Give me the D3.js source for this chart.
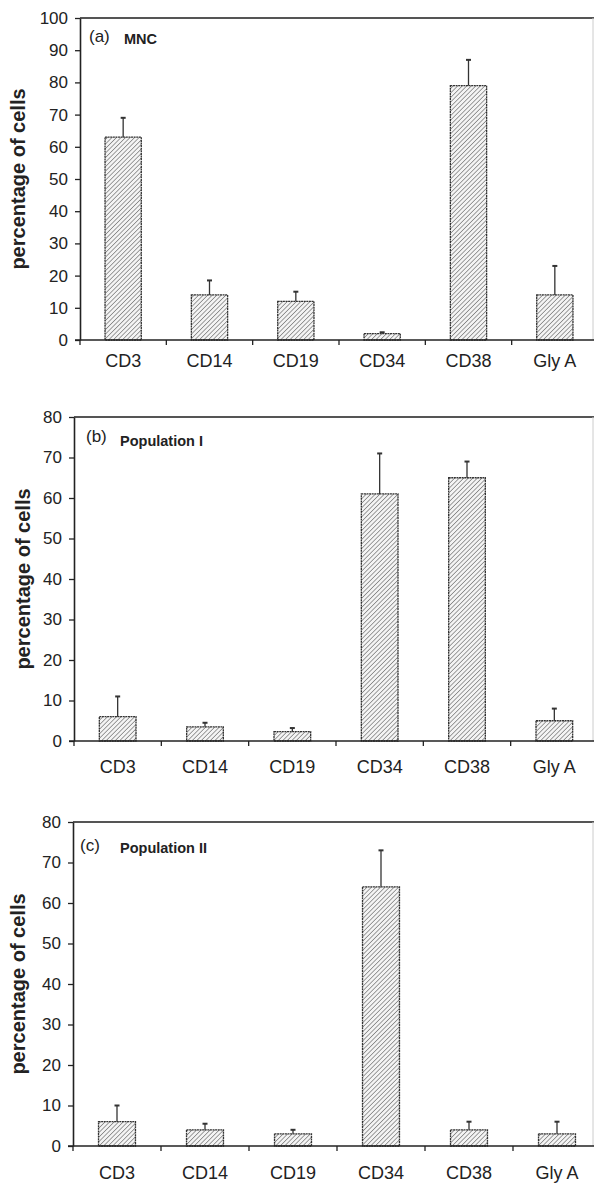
<!DOCTYPE html>
<html>
<head>
<meta charset="utf-8">
<script src="https://cdn.jsdelivr.net/npm/d3@7/dist/d3.min.js"></script>
<style>
  html, body { margin: 0; padding: 0; background: #fff; }
  svg { display: block; }
  text { font-family: "Liberation Sans", Arial, Helvetica, sans-serif; fill: #222; }
</style>
</head>
<body>
<svg id="chart" width="594" height="1187"></svg>
<script>
// ---- data ----
const categories = ["CD3", "CD14", "CD19", "CD34", "CD38", "Gly A"];

const mncValues = [63, 14, 12, 2, 79, 14];
const mncErrors = [6, 4.5, 3, 0.4, 8, 9];

const popIValues = [6, 3.5, 2.3, 61, 65, 5];
const popIErrors = [5, 1, 0.9, 10, 4, 3];

const popIIValues = [6, 4, 3, 64, 4, 3];
const popIIErrors = [4, 1.5, 1, 9, 2, 3];

const ticksA = [0, 10, 20, 30, 40, 50, 60, 70, 80, 90, 100];
const ticksBC = [0, 10, 20, 30, 40, 50, 60, 70, 80];

const panelLetters = ["(a)", "(b)", "(c)"];
const panelTitles = ["MNC", "Population I", "Population II"];
const yAxisTitle = "percentage of cells";

// ---- layout ----
const svg = d3.select("#chart");
svg.append("rect").attr("width", 594).attr("height", 1187).attr("fill", "#fff");

const defs = svg.append("defs");
const pat = defs.append("pattern")
  .attr("id", "hatch")
  .attr("patternUnits", "userSpaceOnUse")
  .attr("width", 3.2).attr("height", 3.2)
  .attr("patternTransform", "rotate(45)");
pat.append("rect").attr("width", 3.2).attr("height", 3.2).attr("fill", "#f4f4f4");
pat.append("line")
  .attr("x1", 0).attr("y1", 0).attr("x2", 0).attr("y2", 3.2)
  .attr("stroke", "#555").attr("stroke-width", 1.1);

const catFont = 18;
const panels = [
  { values: mncValues, errors: mncErrors, ticks: ticksA, max: 100,
    left: 80, right: 598, top: 18, bottom: 340, labelX: 25, catDy: 27,
    letterPos: [89, 42], titlePos: [124, 44] },
  { values: popIValues, errors: popIErrors, ticks: ticksBC, max: 80,
    left: 74, right: 598, top: 417, bottom: 741, labelX: 30, catDy: 32,
    letterPos: [86, 442], titlePos: [120, 446] },
  { values: popIIValues, errors: popIIErrors, ticks: ticksBC, max: 80,
    left: 73, right: 601, top: 822, bottom: 1146, labelX: 25, catDy: 33,
    letterPos: [80, 851], titlePos: [120, 853] }
];

panels.forEach((p, pi) => {
  const g = svg.append("g");
  const x = d3.scaleBand().domain(categories).range([p.left, p.right]).padding(0);
  const y = d3.scaleLinear().domain([0, p.max]).range([p.bottom, p.top]);
  const bw = x.bandwidth() * 0.42;

  // frame: top line and faint right line
  g.append("line")
    .attr("x1", p.left).attr("x2", 594)
    .attr("y1", y(p.max)).attr("y2", y(p.max))
    .attr("stroke", "#555").attr("stroke-width", 2);
  g.append("line")
    .attr("x1", 593).attr("x2", 593)
    .attr("y1", y(p.max)).attr("y2", y(0))
    .attr("stroke", "#ccc").attr("stroke-width", 1);

  // bars
  const cats = categories.map((c, i) => ({ c, v: p.values[i], e: p.errors[i] }));
  g.selectAll("rect.bar").data(cats).enter().append("rect")
    .attr("class", "bar")
    .attr("x", d => x(d.c) + x.bandwidth() / 2 - bw / 2)
    .attr("width", bw)
    .attr("y", d => y(d.v))
    .attr("height", d => y(0) - y(d.v))
    .attr("fill", "url(#hatch)")
    .attr("stroke", "#333")
    .attr("stroke-width", 1.3)
    .attr("stroke-dasharray", "2,0.6");

  // error bars (upper only)
  const eb = g.selectAll("g.err").data(cats).enter().append("g").attr("class", "err");
  eb.append("line")
    .attr("x1", d => x(d.c) + x.bandwidth() / 2)
    .attr("x2", d => x(d.c) + x.bandwidth() / 2)
    .attr("y1", d => y(d.v))
    .attr("y2", d => y(d.v + d.e))
    .attr("stroke", "#333").attr("stroke-width", 1.3);
  eb.append("line")
    .attr("x1", d => x(d.c) + x.bandwidth() / 2 - 2.5)
    .attr("x2", d => x(d.c) + x.bandwidth() / 2 + 2.5)
    .attr("y1", d => y(d.v + d.e))
    .attr("y2", d => y(d.v + d.e))
    .attr("stroke", "#333").attr("stroke-width", 2);

  // y axis
  const yAxis = d3.axisLeft(y).tickValues(p.ticks).tickSize(5).tickPadding(7).tickSizeOuter(0);
  const ya = g.append("g").attr("transform", `translate(${p.left},0)`).call(yAxis);
  ya.select(".domain").attr("stroke", "#222").attr("stroke-width", 1.6);
  ya.selectAll(".tick line").attr("stroke", "#222").attr("stroke-width", 1.3);
  ya.selectAll(".tick text")
    .style("font-size", "17px")
    .attr("fill", "#222");

  // x axis: labels at band centres, ticks at band boundaries
  const xAxis = d3.axisBottom(x).tickSize(0).tickPadding(p.catDy - 0.71 * catFont).tickSizeOuter(0);
  const xa = g.append("g").attr("transform", `translate(0,${y(0)})`).call(xAxis);
  xa.select(".domain").remove();
  xa.selectAll(".tick text").style("font-size", catFont + "px").attr("fill", "#222");
  g.append("line")
    .attr("x1", p.left - 5).attr("x2", 594)
    .attr("y1", y(0)).attr("y2", y(0))
    .attr("stroke", "#222").attr("stroke-width", 1.6);
  g.selectAll("line.bt").data(categories).enter().append("line")
    .attr("class", "bt")
    .attr("x1", d => x(d)).attr("x2", d => x(d))
    .attr("y1", y(0)).attr("y2", y(0) + 5)
    .attr("stroke", "#222").attr("stroke-width", 1.3);

  // y axis title
  g.append("text")
    .attr("transform", `translate(${p.labelX},${(p.top + p.bottom) / 2}) rotate(-90)`)
    .attr("text-anchor", "middle")
    .style("font-size", "20px")
    .style("font-weight", "bold")
    .text(yAxisTitle);

  // panel letter and title
  g.append("text")
    .attr("x", p.letterPos[0]).attr("y", p.letterPos[1])
    .style("font-size", "17px")
    .text(panelLetters[pi]);
  g.append("text")
    .attr("x", p.titlePos[0]).attr("y", p.titlePos[1])
    .style("font-size", "14.5px")
    .style("font-weight", "bold")
    .text(panelTitles[pi]);
});
</script>
</body>
</html>
